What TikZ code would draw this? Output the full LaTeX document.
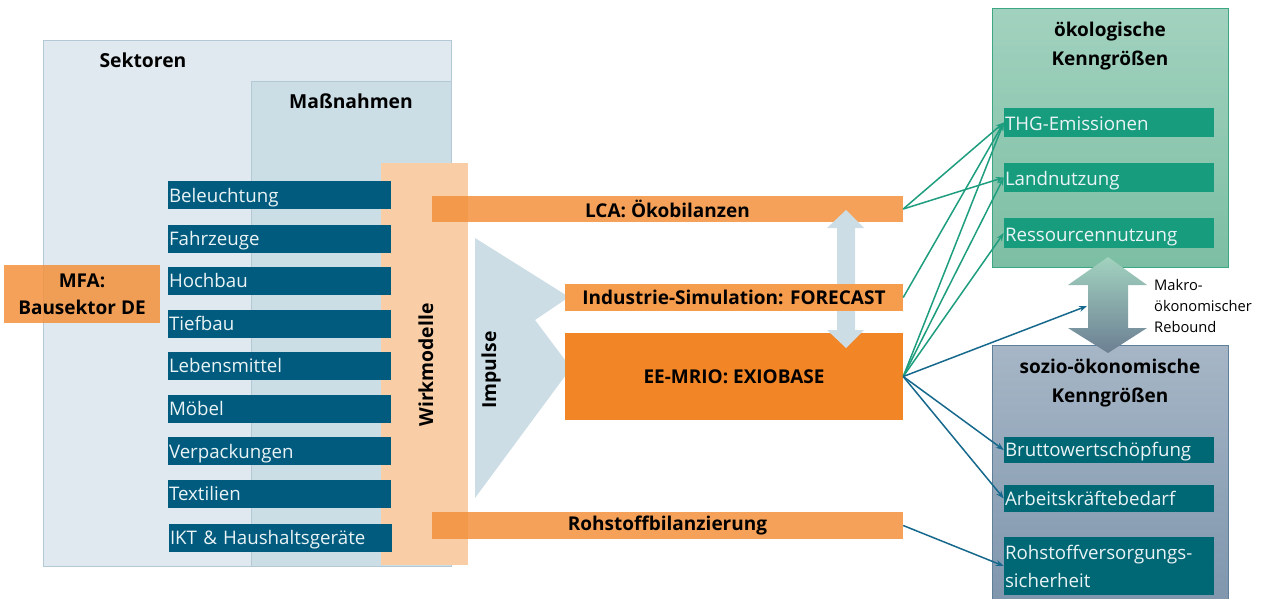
\documentclass[tikz,border=0pt]{standalone}
\usepackage{fontspec}
\setmainfont{Open Sans}
\usetikzlibrary{arrows.meta}

\definecolor{sekfill}{HTML}{DFE9EF}
\definecolor{sekdraw}{HTML}{B4C8D6}
\definecolor{massfill}{HTML}{CBDDE5}
\definecolor{wirkfill}{HTML}{F9CDA6}
\definecolor{barblue}{HTML}{005B7E}
\definecolor{lightorange}{HTML}{F3913C}
\definecolor{paleorange}{HTML}{F59C4D}
\definecolor{strongorange}{HTML}{F28526}
\definecolor{impblue}{HTML}{CCDDE5}
\definecolor{greentop}{HTML}{A2D2BF}
\definecolor{greenbot}{HTML}{7CBEA4}
\definecolor{greendraw}{HTML}{3DA683}
\definecolor{greenitem}{HTML}{179C7D}
\definecolor{gbtop}{HTML}{A6B6C6}
\definecolor{gbbot}{HTML}{7F96AD}
\definecolor{gbdraw}{HTML}{60809A}
\definecolor{tealitem}{HTML}{006775}
\definecolor{greenline}{HTML}{1E9E7F}
\definecolor{blueline}{HTML}{16698C}
\definecolor{itemtext}{HTML}{EAF3F5}

\tikzset{
  area/.style={rectangle, inner sep=0pt, anchor=north west},
  title/.style={font=\fontsize{19.3}{23}\selectfont\bfseries, align=center, inner sep=0pt},
  sectorbar/.style={rectangle, fill=barblue, text=itemtext, minimum height=28pt,
    text height=17pt, text depth=3pt,
    text width=221pt, align=left, inner xsep=1pt, inner ysep=0pt,
    font=\fontsize{18.7}{20}\selectfont},
  modelbar/.style={rectangle, fill=lightorange, fill opacity=0.85, text opacity=1,
    inner sep=0pt, font=\fontsize{19}{20}\selectfont\bfseries},
  kpi/.style={rectangle, text=itemtext, text width=208pt, align=left,
    inner xsep=1pt, inner ysep=0pt, font=\fontsize{18.7}{28}\selectfont},
  link/.style={line width=1.5pt, -{Stealth[length=8pt,width=6pt]}},
}

\begin{document}
\begin{tikzpicture}[x=1pt, y=-1pt]
\useasboundingbox (0,0) rectangle (1264,598);

% sectors and measures
\node[area, fill=sekfill, draw=sekdraw, line width=1pt,
  minimum width=408pt, minimum height=526pt] (sek) at (43,40) {};
\node[title] (sektitle) at (143,60) {Sektoren};
\node[area, fill=massfill, draw=sekdraw, line width=0.8pt,
  minimum width=200pt, minimum height=485pt] (mass) at (251,81) {};
\node[title] (masstitle) at (351,101) {Maßnahmen};

% impact models band
\node[area, fill=wirkfill, minimum width=87pt, minimum height=402pt] (wirk) at (381,163) {};
\node[title, rotate=90] (wirktitle) at (426,365) {Wirkmodelle};

% sector bars
\node[sectorbar] (s1) at (279.5,195) {Beleuchtung};
\node[sectorbar] (s2) at (279.5,238.5) {Fahrzeuge};
\node[sectorbar] (s3) at (279.5,280.5) {Hochbau};
\node[sectorbar] (s4) at (279.5,323.5) {Tiefbau};
\node[sectorbar] (s5) at (279.5,365.5) {Lebensmittel};
\node[sectorbar] (s6) at (279.5,408.5) {Möbel};
\node[sectorbar] (s7) at (279.5,451) {Verpackungen};
\node[sectorbar] (s8) at (279.5,493.5) {Textilien};
\node[sectorbar] (s9) at (280.5,537.5) {IKT \& Haushaltsgeräte};

% material flow analysis
\node[modelbar, minimum width=156pt, minimum height=58pt, align=center,
  font=\fontsize{19}{27}\selectfont\bfseries] (mfa) at (82,294) {MFA:\\Bausektor DE};

% impulses
\path[fill=impblue] (475,238) -- (569,297) -- (535,320) -- (571,368) -- (475,498) -- cycle;
\node[title, rotate=90] (imp) at (491,370) {Impulse};

% model bars
\node[modelbar, minimum width=471pt, minimum height=26pt] (lca) at (667.5,209) {LCA: Ökobilanzen};
\node[modelbar, fill=strongorange, fill opacity=1, minimum width=338pt, minimum height=87pt] (exio) at (734,376.5) {EE-MRIO: EXIOBASE};
\node[modelbar, minimum width=471pt, minimum height=27pt] (rohbil) at (667.5,525.5) {Rohstoffbilanzierung};

% coupling arrow between the models
\path[fill=impblue] (846,210) -- (864,228) -- (855,228) -- (855,330) -- (864,330)
  -- (846,348) -- (827,330) -- (837,330) -- (837,228) -- (827,228) -- cycle;

\node[modelbar, fill=paleorange, fill opacity=1, minimum width=338pt, minimum height=27pt] (fc) at (734,297.5) {Industrie-Simulation: FORECAST};

% ecological indicators
\node[area, top color=greentop, bottom color=greenbot, draw=greendraw, line width=1pt,
  minimum width=236pt, minimum height=259pt] (eco) at (992,8) {};
\node[title, font=\fontsize{19}{29}\selectfont\bfseries] (ecotitle) at (1110,46) {ökologische\\Kenngrößen};
\node[kpi, fill=greenitem, minimum height=29pt, text height=18pt, text depth=3pt] (thg) at (1109,122.5) {THG-Emissionen};
\node[kpi, fill=greenitem, minimum height=29pt, text height=18pt, text depth=3pt] (land) at (1109,177.5) {Landnutzung};
\node[kpi, fill=greenitem, minimum height=30pt, text height=19pt, text depth=3pt] (ress) at (1109,233) {Ressourcennutzung};

% socio-economic indicators
\node[area, top color=gbtop, bottom color=gbbot, draw=gbdraw, line width=1pt,
  minimum width=236pt, minimum height=256pt] (soz) at (992,345) {};
\node[title, font=\fontsize{19}{29}\selectfont\bfseries] (soztitle) at (1110,383.5) {sozio-ökonomische\\Kenngrößen};
\node[kpi, fill=tealitem, minimum height=26pt, text height=15pt, text depth=3pt] (bws) at (1109,450) {Bruttowertschöpfung};
\node[kpi, fill=tealitem, minimum height=27pt, text height=16pt, text depth=3pt] (akb) at (1109,498.5) {Arbeitskräftebedarf};
\node[kpi, fill=tealitem, minimum height=58pt] (rvs) at (1109,566) {Rohstoffversorgungs-\\sicherheit};

% macroeconomic rebound
\path[top color=greentop, bottom color=gbbot!85!black] (1108,257) -- (1147,285) -- (1128,285) -- (1128,328)
  -- (1147,328) -- (1108,353) -- (1068,328) -- (1088,328) -- (1088,285) -- (1068,285) -- cycle;
\coordinate (rebound) at (1087,306);
\node[anchor=west, align=left, inner sep=0pt, font=\fontsize{14.7}{21}\selectfont] (rbtext) at (1154,306)
  {Makro-\\ökonomischer\\Rebound};

% connectors
\draw[link, greenline] (lca.east) -- (thg.west);
\draw[link, greenline] (lca.east) -- (land.west);
\draw[link, greenline] (fc.east) -- (thg.west);
\draw[link, greenline] (exio.east) -- (thg.west);
\draw[link, greenline] (exio.east) -- (land.west);
\draw[link, greenline] (exio.east) -- (ress.west);
\draw[link, blueline] (exio.east) -- (rebound);
\draw[link, blueline] (exio.east) -- (bws.west);
\draw[link, blueline] (exio.east) -- (akb.west);
\draw[link, blueline] (rohbil.east) -- (rvs.west);
\end{tikzpicture}
\end{document}
